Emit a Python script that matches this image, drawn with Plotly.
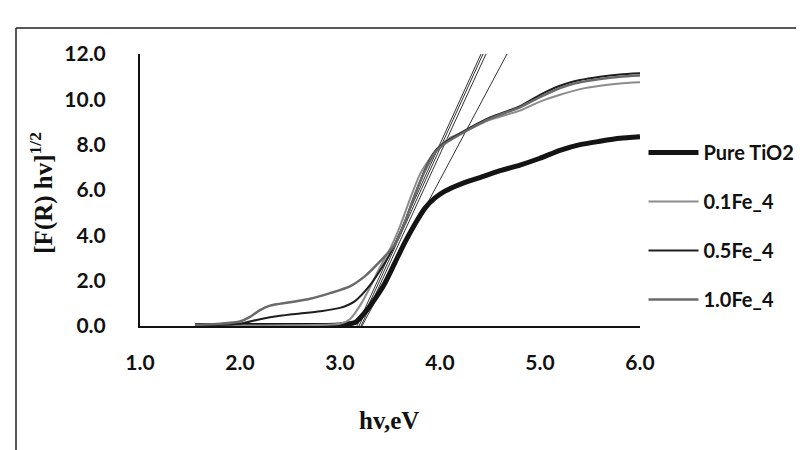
import plotly.graph_objects as go

# ---- data ----
hv_pure = [1.55, 2.0, 2.5, 3.0, 3.15, 3.25, 3.35, 3.45, 3.55, 3.65, 3.75, 3.85, 3.95, 4.05,
           4.2, 4.4, 4.6, 4.8, 5.0, 5.2, 5.4, 5.6, 5.8, 6.0]
y_pure = [0.02, 0.02, 0.02, 0.05, 0.15, 0.6, 1.2, 1.9, 2.8, 3.7, 4.5, 5.2, 5.65, 5.95,
          6.25, 6.55, 6.85, 7.1, 7.4, 7.75, 8.0, 8.15, 8.28, 8.35]

hv_01 = [1.55, 2.0, 2.5, 3.0, 3.1, 3.2, 3.3, 3.4, 3.5, 3.6, 3.7, 3.8, 3.9, 4.0, 4.1,
         4.2, 4.5, 4.8, 5.0, 5.2, 5.4, 5.6, 5.8, 6.0]
y_01 = [0.02, 0.02, 0.03, 0.1, 0.3, 0.9, 1.7, 2.6, 3.4, 4.4, 5.6, 6.7, 7.4, 7.95, 8.3,
        8.5, 9.1, 9.5, 9.9, 10.2, 10.45, 10.6, 10.7, 10.75]

hv_05 = [1.55, 2.0, 2.2, 2.4, 2.6, 2.8, 3.0, 3.15, 3.3, 3.45, 3.55, 3.65, 3.75, 3.85,
         3.95, 4.05, 4.2, 4.5, 4.8, 5.0, 5.2, 5.4, 5.6, 5.8, 6.0]
y_05 = [0.02, 0.1, 0.3, 0.45, 0.55, 0.65, 0.8, 1.1, 1.8, 2.8, 3.6, 4.6, 5.8, 6.9,
        7.7, 8.1, 8.5, 9.2, 9.7, 10.2, 10.6, 10.85, 11.0, 11.1, 11.15]

hv_10 = [1.55, 1.8, 2.0, 2.1, 2.2, 2.3, 2.5, 2.7, 2.9, 3.1, 3.25, 3.4, 3.55, 3.65, 3.75,
         3.85, 3.95, 4.05, 4.2, 4.5, 4.8, 5.0, 5.2, 5.4, 5.6, 5.8, 6.0]
y_10 = [0.05, 0.1, 0.2, 0.4, 0.7, 0.9, 1.05, 1.2, 1.45, 1.75, 2.2, 2.85, 3.6, 4.6, 5.8,
        6.85, 7.65, 8.05, 8.45, 9.15, 9.65, 10.1, 10.5, 10.75, 10.9, 11.0, 11.05]

# tangent (extrapolation) lines: start and end points
tan_x = [[3.22, 4.67], [3.17, 4.41], [3.19, 4.43], [3.21, 4.46]]
tan_y = [[0, 12], [0, 12], [0, 12], [0, 12]]

series = [
    ("Pure TiO2", hv_pure, y_pure, "#141414", 5),
    ("0.1Fe_4", hv_01, y_01, "#8c8c8c", 2),
    ("0.5Fe_4", hv_05, y_05, "#1e1e1e", 2),
    ("1.0Fe_4", hv_10, y_10, "#6a6a6a", 2.5),
]

x_ticks = [1.0, 2.0, 3.0, 4.0, 5.0, 6.0]
y_ticks = [0.0, 2.0, 4.0, 6.0, 8.0, 10.0, 12.0]

fig = go.Figure()
for tx, ty in zip(tan_x, tan_y):
    fig.add_trace(go.Scatter(x=tx, y=ty, mode="lines", showlegend=False,
                             line=dict(color="#333333", width=1), hoverinfo="skip"))
for i, (name, xs, ys, col, w) in enumerate(series):
    fig.add_trace(go.Scatter(x=xs, y=ys, mode="lines", name=name, legendgroup=f"g{i}",
                             line=dict(color=col, width=w, shape="spline", smoothing=0.6)))

tickfont = dict(family="Lato, 'Open Sans', sans-serif", size=21, color="#111", weight="bold")
titlefont = dict(family="Liberation Serif, serif", size=25, color="#111", weight="bold")
fig.update_layout(
    width=804, height=450,
    margin=dict(l=132, r=172, t=46, b=132),
    paper_bgcolor="white", plot_bgcolor="white",
    showlegend=True,
    legend=dict(x=1.007, y=0.71, xanchor="left", yanchor="top",
                traceorder="grouped", tracegroupgap=20,
                font=dict(family="Lato, 'Open Sans', sans-serif", size=20, color="#111",
                          weight="bold"),
                itemwidth=50, bgcolor="rgba(0,0,0,0)"),
    xaxis=dict(range=[1, 6], tickvals=x_ticks, tickformat=".1f", showgrid=False,
               zeroline=False, showline=True, linecolor="#111", linewidth=2,
               ticks="", tickfont=tickfont, ticklabelstandoff=17),
    yaxis=dict(range=[0, 12], tickvals=y_ticks, tickformat=".1f", showgrid=False,
               zeroline=False, showline=True, linecolor="#111", linewidth=2,
               ticks="", tickfont=tickfont, ticklabelstandoff=28),
)

# axis titles placed as annotations
fig.add_annotation(text="[F(R) hv]<sup>1/2</sup>", xref="paper", yref="paper",
                   x=-0.196, y=0.49, xanchor="center", yanchor="middle",
                   textangle=-90, showarrow=False, font=titlefont)
fig.add_annotation(text="hv,eV", xref="paper", yref="paper",
                   x=0.498, y=-0.346, xanchor="center", yanchor="middle",
                   showarrow=False, font=titlefont)

# scan frame (top and left border)
fig.add_shape(type="line", xref="paper", yref="paper", x0=-0.248, x1=1.4, y0=1.0956, y1=1.0956,
              line=dict(color="#222", width=1.5))
fig.add_shape(type="line", xref="paper", yref="paper", x0=-0.248, x1=-0.248, y0=1.0956, y1=-0.5,
              line=dict(color="#222", width=1.5))

fig.write_html("out.html")
